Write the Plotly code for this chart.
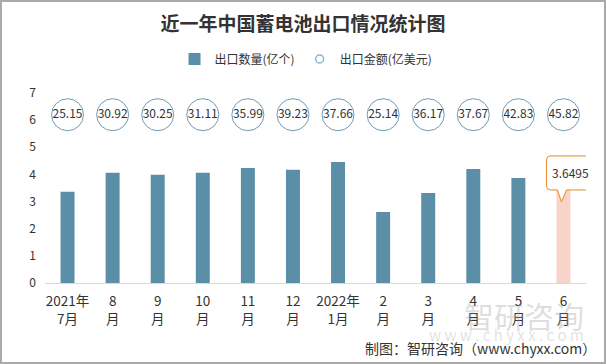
import plotly.graph_objects as go

months = ["2021年<br>7月", "8<br>月", "9<br>月", "10<br>月", "11<br>月", "12<br>月",
          "2022年<br>1月", "2<br>月", "3<br>月", "4<br>月", "5<br>月", "6<br>月"]
quantity = [3.36, 4.06, 3.99, 4.06, 4.24, 4.17, 4.46, 2.62, 3.32, 4.20, 3.87, 3.6495]
amount = [25.15, 30.92, 30.25, 31.11, 35.99, 39.23, 37.66, 25.14, 36.17, 37.67, 42.83, 45.82]

BUBBLE_Y = 6.2
FONT = "Noto Sans CJK SC"
BAR_COLOR = "#5b8fa7"
HIGHLIGHT = "#f8d3ca"
ORANGE = "#e8892c"

x = list(range(len(months)))
colors = [BAR_COLOR] * (len(months) - 1) + [HIGHLIGHT]

fig = go.Figure()
fig.add_trace(go.Bar(
    x=x, y=quantity, name="出口数量(亿个)", width=0.31,
    marker=dict(color=colors, line=dict(width=0)),
    showlegend=True,
))
fig.add_trace(go.Scatter(
    x=x, y=[BUBBLE_Y] * len(x), mode="markers+text",
    text=[f"{v:.2f}" for v in amount], textposition="middle center",
    textfont=dict(family=FONT, size=12, color="#333333"),
    marker=dict(symbol="circle", size=32, color="rgba(255,255,255,0)",
                line=dict(color="#6f9bb5", width=1)),
    showlegend=False, cliponaxis=False,
))
# legend proxy for amount
fig.add_trace(go.Scatter(
    x=[None], y=[None], mode="markers", name="出口金额(亿美元)",
    marker=dict(symbol="circle-open", size=8, color="#8fb3c8", line=dict(width=1.5)),
))

# callout for last bar
last = len(x) - 1
fig.add_shape(
    type="path", xref="x", yref="y", xsizemode="pixel", ysizemode="pixel",
    xanchor=last, yanchor=quantity[last],
    path="M -13 28 L 27 28 Q 31 28 31 24 L 31 -2 Q 31 -6 27 -6 L 3 -6 L -2 -18 L -6 -6 "
         "L -13 -6 Q -17 -6 -17 -2 L -17 24 Q -17 28 -13 28 Z",
    line=dict(color=ORANGE, width=1), fillcolor="white", layer="above",
)
fig.add_annotation(
    x=last, y=quantity[last], text=f"{quantity[last]}", showarrow=False,
    xshift=7, yshift=11, font=dict(family=FONT, size=12, color="#333333"),
)

# watermark
fig.add_annotation(xref="paper", yref="paper", x=1.0, y=(283 - 315) / 190, xanchor="right", yanchor="middle",
                   text="智研咨询", showarrow=False,
                   font=dict(family=FONT, size=30, color="rgba(160,160,160,0.35)"))
fig.add_annotation(xref="paper", yref="paper", x=1.0, y=(283 - 334) / 190, xanchor="right", yanchor="middle",
                   text="w w w . c h y x x . c o m", showarrow=False,
                   font=dict(family=FONT, size=15, color="rgba(170,170,170,0.35)"))
# footer
fig.add_annotation(xref="paper", yref="paper", x=1.022, y=(283 - 348) / 190, xanchor="right", yanchor="middle",
                   text="制图：智研咨询（www.chyxx.com）", showarrow=False,
                   font=dict(family=FONT, size=14, color="#333333"))

# border
fig.add_shape(type="rect", xref="paper", yref="paper", x0=-44/541, x1=1+19/541,
              y0=-80/190, y1=1+92/190, line=dict(color="#aaaaaa", width=2), layer="above")

fig.update_layout(
    width=606, height=364,
    margin=dict(l=45, r=20, t=93, b=81),
    paper_bgcolor="white", plot_bgcolor="white",
    font=dict(family=FONT, size=13, color="#333333"),
    title=dict(text="<b>近一年中国蓄电池出口情况统计图</b>", x=0.5, xanchor="center",
               yref="container", y=1 - 24/364, yanchor="middle",
               font=dict(family=FONT, size=19, color="#333333")),
    legend=dict(orientation="h", xref="container", yref="container", x=0.505, xanchor="center",
                y=1 - 59/364, yanchor="middle", font=dict(size=12, color="#333333"),
                itemwidth=30, traceorder="normal"),
    bargap=0.69,
    showlegend=True,
)
fig.update_xaxes(tickvals=x, ticktext=months, range=[-0.5, len(x) - 0.5], automargin=False,
                 showline=True, linecolor="#d9d9d9", linewidth=1, ticks="",
                 ticklabelstandoff=6,
                 showgrid=False, zeroline=False, tickfont=dict(size=13.5))
fig.update_yaxes(range=[0, 7], dtick=1, showgrid=False, zeroline=False, showline=False,
                 automargin=False, ticks="", ticklabelstandoff=8, tickfont=dict(size=12))

fig.write_html("out.html", config={"displayModeBar": False})

# remove default browser body margin so the figure sits at the window origin
with open("out.html", "r", encoding="utf-8") as f:
    html = f.read()
html = html.replace("<head>", "<head><style>html,body{margin:0;padding:0;overflow:hidden;}</style>", 1)
with open("out.html", "w", encoding="utf-8") as f:
    f.write(html)
